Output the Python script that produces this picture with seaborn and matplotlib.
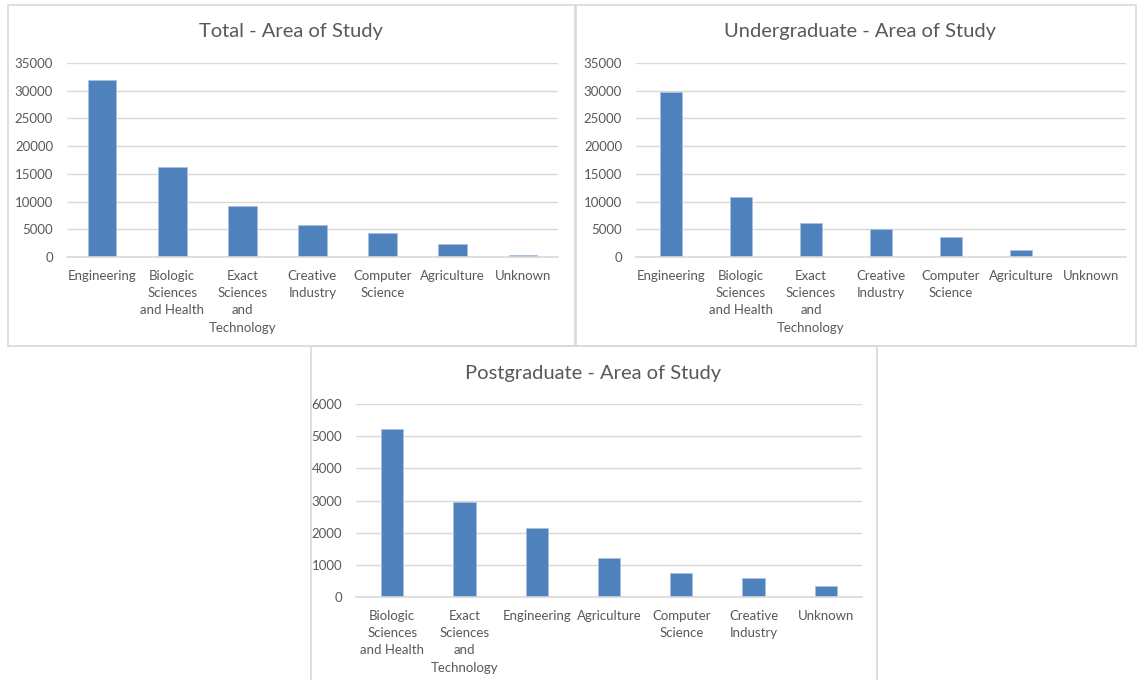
import matplotlib
matplotlib.use("Agg")
import matplotlib.pyplot as plt
import seaborn as sns
import pandas as pd
from matplotlib.patches import Rectangle

sns.set_style("white")
plt.rcParams["font.family"] = ["Lato", "DejaVu Sans"]

# ============================================================
# DATA
# ============================================================

total_areas = ["Engineering", "Biologic\nSciences\nand Health", "Exact\nSciences\nand\nTechnology",
               "Creative\nIndustry", "Computer\nScience", "Agriculture", "Unknown"]
total_counts = [31850, 16250, 9200, 5780, 4300, 2350, 300]

ug_areas = ["Engineering", "Biologic\nSciences\nand Health", "Exact\nSciences\nand\nTechnology",
            "Creative\nIndustry", "Computer\nScience", "Agriculture", "Unknown"]
ug_counts = [29750, 10850, 6200, 5120, 3680, 1330, 0]

pg_areas = ["Biologic\nSciences\nand Health", "Exact\nSciences\nand\nTechnology", "Engineering",
            "Agriculture", "Computer\nScience", "Creative\nIndustry", "Unknown"]
pg_counts = [5230, 2940, 2140, 1220, 745, 600, 340]

W, H = 1137, 680
BAR = "#4f81bd"
TXT = "#595959"
GRID = "#d9d9d9"

fig = plt.figure(figsize=(W / 100, H / 100), dpi=100)
fig.patch.set_facecolor("white")


def px_rect(x0, y0, x1, y1):
    # pixel box (top-left origin) -> figure fraction rect
    return [x0 / W, 1 - y1 / H, (x1 - x0) / W, (y1 - y0) / H]


# panel borders (bottom chart is cut off at the lower edge)
for x0, y0, x1, y1 in [(8, 5, 575, 346), (576, 5, 1136, 346), (311, 346, 877, 690)]:
    fig.add_artist(Rectangle((x0 / W, 1 - y1 / H), (x1 - x0) / W, (y1 - y0) / H,
                             transform=fig.transFigure, fill=False, edgecolor=GRID, lw=1.2))


def area_chart(box, areas, counts, ymax, step, title, title_xy, bar_w):
    ax = fig.add_axes(px_rect(*box))
    df = pd.DataFrame({"area": areas, "count": counts})
    sns.barplot(data=df, x="area", y="count", color=BAR, width=bar_w, saturation=1,
                edgecolor="#a9c1e0", linewidth=0.6, ax=ax)
    ax.set_ylim(0, ymax)
    ax.set_yticks(range(0, ymax + 1, step))
    ax.yaxis.grid(True, color=GRID, lw=1)
    ax.set_axisbelow(True)
    for s in ["top", "right", "left"]:
        ax.spines[s].set_visible(False)
    ax.spines["bottom"].set_color(GRID)
    ax.spines["bottom"].set_linewidth(1.2)
    ax.set_xlabel("")
    ax.set_ylabel("")
    ax.tick_params(axis="y", length=0, pad=10, labelsize=9.5, labelcolor=TXT)
    ax.tick_params(axis="x", length=0, pad=9, labelsize=9.5, labelcolor=TXT)
    for lbl in ax.get_xticklabels():
        lbl.set_linespacing(1.55)
    fig.text(title_xy[0] / W, 1 - title_xy[1] / H, title, ha="center", va="center",
             fontsize=14.5, color=TXT)
    return ax


area_chart((67, 63, 558, 257), total_areas, total_counts, 35000, 5000,
           "Total - Area of Study", (291, 32), 0.41)
area_chart((636, 63, 1126, 257), ug_areas, ug_counts, 35000, 5000,
           "Undergraduate - Area of Study", (860, 32), 0.32)
area_chart((356, 404, 862, 597), pg_areas, pg_counts, 6000, 1000,
           "Postgraduate - Area of Study", (593, 373), 0.31)

fig.savefig("out.png", dpi=100, facecolor="white")
